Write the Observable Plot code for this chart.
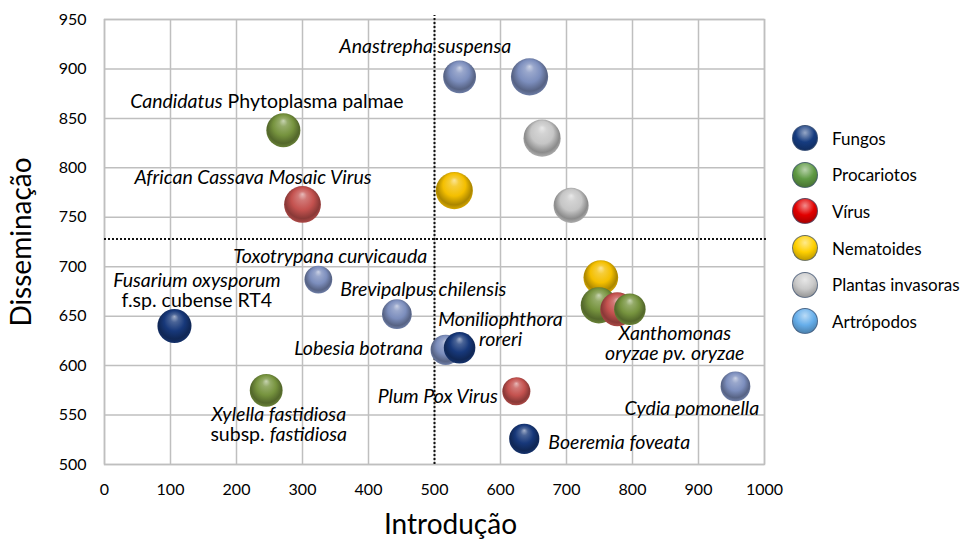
<!DOCTYPE html>
<html><head><meta charset="utf-8">
<script src="https://cdn.jsdelivr.net/npm/d3@7"></script>
<script src="https://cdn.jsdelivr.net/npm/@observablehq/plot@0.6"></script>
<style>
body{margin:0;background:#fff;font-family:Lato,sans-serif;}
#wrap{position:relative;width:964px;height:542px;overflow:hidden;}
#legend{position:absolute;left:792px;top:120px;width:172px;}
.item{display:flex;align-items:center;height:36.6px;font-size:17px;color:#000;white-space:nowrap;}
.ball{flex:none;width:26px;height:26px;border-radius:50%;margin-right:14px;box-sizing:border-box;border:1px solid rgba(70,90,120,0.75);}
</style></head><body><div id="wrap"><div id="legend"></div></div>
<script>
// ---- data ----
const nomes = ["Fusarium oxysporum f.sp. cubense RT4","Boeremia foveata","Candidatus Phytoplasma palmae","Xylella fastidiosa subsp. fastidiosa","African Cassava Mosaic Virus","Plum Pox Virus","Nematoide A","Nematoide B","Planta invasora A","Planta invasora B","Anastrepha suspensa A","Anastrepha suspensa B","Toxotrypana curvicauda","Brevipalpus chilensis","Lobesia botrana","Cydia pomonella","Moniliophthora roreri","Xanthomonas oryzae pv. oryzae A","Vírus C","Xanthomonas oryzae pv. oryzae B"];
const grupos = ["Fungos","Fungos","Procariotos","Procariotos","Vírus","Vírus","Nematoides","Nematoides","Plantas invasoras","Plantas invasoras","Artrópodos","Artrópodos","Artrópodos","Artrópodos","Artrópodos","Artrópodos","Fungos","Procariotos","Vírus","Procariotos"];
const introducao = [106,636,271,245,300,624,530,752,663,707,538,644,324,443,517,956,538,749,777,796];
const disseminacao = [640,526,838,575,763,574,777,689,830,762,892,892,687,652,616,579,618,661,657,657];
const tamanho = [84,66,84,78,98,57,100,87,100,89,78,100,56,64,66,64,72,95,84,72];

const categorias = ["Fungos","Procariotos","Vírus","Nematoides","Plantas invasoras","Artrópodos"];
const coresBolha = ["#17387A","#76933E","#C4524F","#F4BF00","#C6C6C6","#7C8EBD"];
const coresLegenda = ["#163C80","#5F9A44","#E20000","#FFD000","#C9C9C9","#66AEEA"];

const rotulos = ["*Anastrepha suspensa*","*Candidatus* Phytoplasma palmae","*African Cassava Mosaic Virus*","*Toxotrypana curvicauda*","*Fusarium oxysporum*\nf.sp. cubense RT4","*Brevipalpus chilensis*","*Moniliophthora*\n*roreri*","*Lobesia botrana*","*Plum Pox Virus*","*Xylella fastidiosa*\nsubsp. *fastidiosa*","*Xanthomonas*\n*oryzae pv. oryzae*","*Cydia pomonella*","*Boeremia foveata*"];
const rotuloX = [486,246,225,342,140,483,600,385,505,264,864,890,780];
const rotuloY = [923,867,790,710,676,677,636,617,569,540,622,557,522];

const xTicks = [0,100,200,300,400,500,600,700,800,900,1000];
const yTicks = [500,550,600,650,700,750,800,850,900,950];
const limiarX = 500;
const limiarY = 728;

// ---- tables ----
const bolhas = nomes.map((n,i)=>({nome:n, grupo:grupos[i], x:introducao[i], y:disseminacao[i], t:tamanho[i]}));
const textos = rotulos.map((t,i)=>({t, x:rotuloX[i], y:rotuloY[i]}));

const grid = {stroke:"#BFBFBF", strokeOpacity:1, strokeWidth:1.5};
const svg = Plot.plot({
  width:964, height:542,
  marginLeft:104, marginRight:200, marginTop:19, marginBottom:78,
  x:{domain:[0,1000]},
  y:{domain:[500,950]},
  r:{domain:[0,100], range:[0,18.6]},
  color:{type:"identity"},
  style:{fontFamily:"Lato, sans-serif", fontSize:"16px", color:"#000", background:"#fff"},
  marks:[
    Plot.gridX(xTicks, grid),
    Plot.gridY(yTicks, grid),
    Plot.frame({stroke:"#BFBFBF", strokeWidth:1.5}),
    Plot.axisX(xTicks, {tickSize:0, tickPadding:19, label:null, fontSize:16, tickFormat:d=>String(d)}),
    Plot.axisY(yTicks, {tickSize:0, tickPadding:18, label:null, fontSize:16, tickFormat:d=>String(d)}),
    Plot.ruleX([limiarX], {y1:500, y2:954, stroke:"#111", strokeWidth:2, strokeDasharray:"2,2"}),
    Plot.ruleY([limiarY], {x1:0, x2:1003, stroke:"#111", strokeWidth:2, strokeDasharray:"2,2"}),
    Plot.dot(bolhas, {x:"x", y:"y", r:"t", sort:null, stroke:"none",
      fill:d=>`url(#bolha-${categorias.indexOf(d.grupo)})`}),
    Plot.text(textos, {x:"x", y:"y", text:"t", fontSize:19.5, lineHeight:1.02, fill:"#000",
      textAnchor:"middle", lineAnchor:"middle"}),
    Plot.text(["Introdução"], {frameAnchor:"bottom", textAnchor:"middle", lineAnchor:"middle", dx:16, dy:61, fontSize:28, fill:"#000"}),
    Plot.text(["Disseminação"], {frameAnchor:"left", textAnchor:"middle", lineAnchor:"middle", rotate:-90, dx:-82, fontSize:28, fill:"#000"})
  ]
});

// gradients for 3D sphere look
const ns = "http://www.w3.org/2000/svg";
const defs = document.createElementNS(ns, "defs");
coresBolha.forEach((c,i)=>{
  const g = document.createElementNS(ns, "radialGradient");
  g.setAttribute("id", `bolha-${i}`);
  g.setAttribute("cx","50%"); g.setAttribute("cy","45%"); g.setAttribute("r","55%");
  g.setAttribute("fx","50%"); g.setAttribute("fy","22%");
  const stops = [
    [0, d3.interpolateRgb(c,"#fff")(0.6)],
    [0.22, d3.interpolateRgb(c,"#fff")(0.22)],
    [0.55, c],
    [0.85, d3.interpolateRgb(c,"#000")(0.3)],
    [1, d3.interpolateRgb(c,"#000")(0.12)]
  ];
  stops.forEach(([o,col])=>{
    const s = document.createElementNS(ns,"stop");
    s.setAttribute("offset", o); s.setAttribute("stop-color", col);
    g.appendChild(s);
  });
  defs.appendChild(g);
});
svg.insertBefore(defs, svg.firstChild);

// mixed italic / normal text
function estilizar(el){
  const s = el.textContent;
  if(!s.includes("*")) return;
  while(el.firstChild) el.removeChild(el.firstChild);
  s.split("*").forEach((p,i)=>{
    if(!p) return;
    const t = document.createElementNS(ns,"tspan");
    t.setAttribute("font-style", i%2===1 ? "italic" : "normal");
    t.textContent = p;
    el.appendChild(t);
  });
}
svg.querySelectorAll("text").forEach(tx=>{
  if(!tx.textContent.includes("*")) return;
  const sp = Array.from(tx.children).filter(c=>c.tagName.toLowerCase()==="tspan");
  if(sp.length) sp.forEach(estilizar); else estilizar(tx);
});

const wrap = document.getElementById("wrap");
wrap.insertBefore(svg, wrap.firstChild);

// legend
const leg = document.getElementById("legend");
categorias.forEach((c,i)=>{
  const col = coresLegenda[i];
  const it = document.createElement("div"); it.className="item";
  const b = document.createElement("div"); b.className="ball";
  b.style.background = `radial-gradient(circle at 50% 28%, ${d3.interpolateRgb(col,"#fff")(0.55)} 0%, ${col} 45%, ${d3.interpolateRgb(col,"#000")(0.3)} 90%)`;
  const l = document.createElement("span"); l.textContent = c;
  it.appendChild(b); it.appendChild(l); leg.appendChild(it);
});
</script></body></html>
